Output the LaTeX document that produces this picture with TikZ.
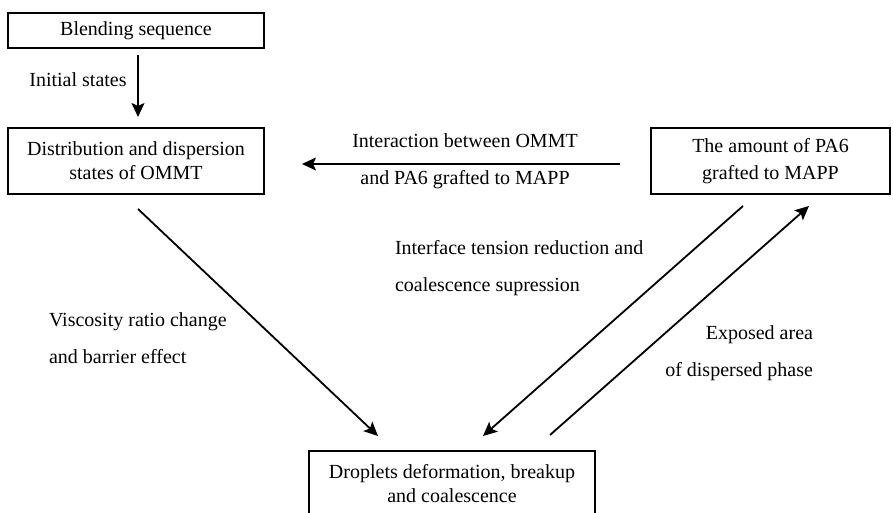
\documentclass[tikz,border=0pt]{standalone}
\usepackage{fontspec}
\setmainfont{Liberation Serif}
\usepackage{tikz}
\usetikzlibrary{arrows.meta}

\begin{document}
\begin{tikzpicture}[x=0.5pt, y=-0.5pt,
  every node/.style={inner sep=0pt, outer sep=0pt, font=\fontsize{10}{12}\selectfont},
  box/.style={draw, line width=1.1pt, align=center},
  lbl/.style={font=\fontsize{10}{18.5}\selectfont},
  arr/.style={-{Stealth[length=7pt, width=6.5pt, inset=1.5pt]}, line width=0.9pt}]
\useasboundingbox (0,0) rectangle (893,513);
\clip (0,0) rectangle (893,513);

\node[box, minimum width=128pt, minimum height=17.5pt] (blend) at (136,30.5) {Blending sequence};
\node[box, minimum width=128pt, minimum height=33pt] (dist) at (136,161) {Distribution and dispersion\\states of OMMT};
\node[box, minimum width=119.5pt, minimum height=33pt, font=\fontsize{10}{13.5}\selectfont] (amount) at (770.5,161) {The amount of PA6\\grafted to MAPP};
\node[box, minimum width=143pt, minimum height=33pt] (drop) at (452,484) {Droplets deformation, breakup\\and coalescence};

\node (init) at (78,80) {Initial states};
\node[lbl, align=center] (inter) at (465,161.5) {Interaction between OMMT\\and PA6 grafted to MAPP};
\node[lbl, align=left, anchor=west] (visc) at (49,338.5) {Viscosity ratio change\\and barrier effect};
\node[lbl, align=left, anchor=west] (tens) at (395,268.5) {Interface tension reduction and\\coalescence supression};
\node[lbl, align=right, anchor=east] (expo) at (813,353.5) {Exposed area\\of dispersed phase};

\draw[arr] ([shift={(2,7)}]blend.south) -- ([shift={(2,-11)}]dist.north);
\draw[arr] ([shift={(-31,3)}]amount.west) -- ([shift={(38,3)}]dist.east);
\draw[arr] ([shift={(2,15)}]dist.south) -- ([shift={(-74,-15)}]drop.north);
\draw[arr] ([shift={(-27.5,12)}]amount.south) -- ([shift={(31,-15)}]drop.north);
\draw[arr] ([shift={(98,-16)}]drop.north) -- ([shift={(38.5,12)}]amount.south);
\end{tikzpicture}
\end{document}
